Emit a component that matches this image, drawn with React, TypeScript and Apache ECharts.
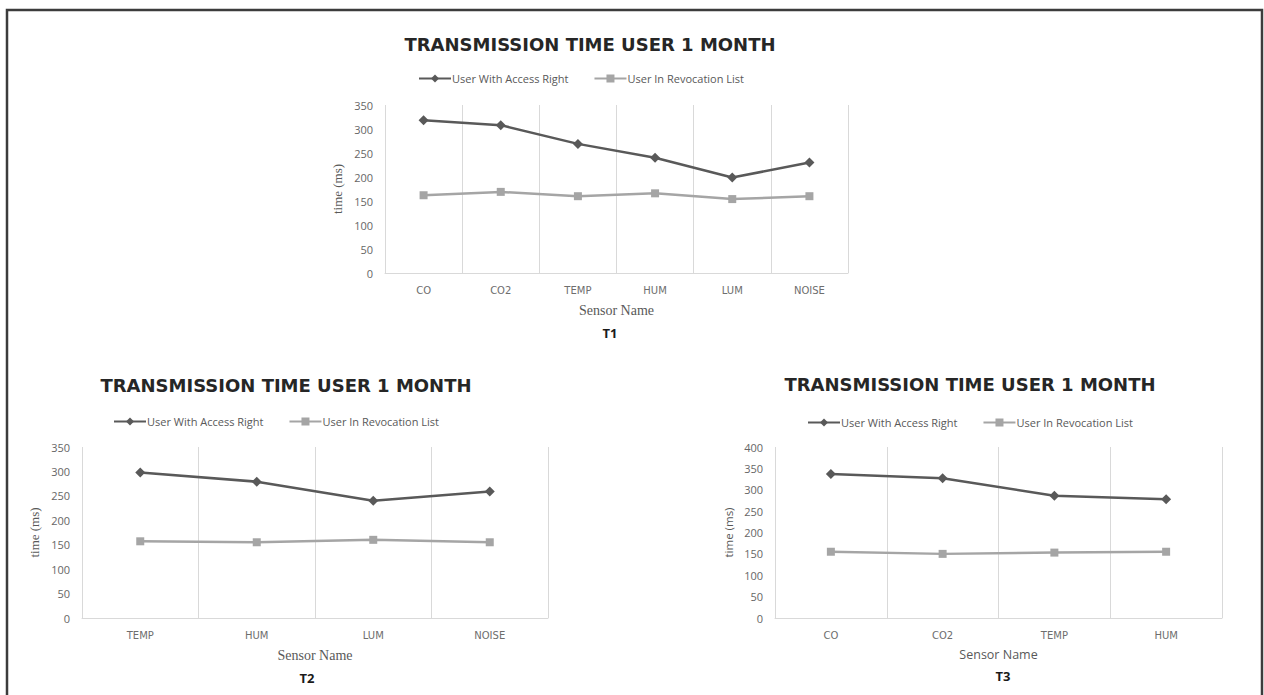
import React, { useEffect, useRef } from "react";
import * as echarts from "echarts";

const titleText = "TRANSMISSION TIME USER 1 MONTH";
const seriesNames = ["User With Access Right", "User In Revocation List"];

const t1Categories = ["CO", "CO2", "TEMP", "HUM", "LUM", "NOISE"];
const t1Access = [318, 308, 269, 240, 199, 230];
const t1Revoc = [162, 169, 160, 166, 154, 160];

const t2Categories = ["TEMP", "HUM", "LUM", "NOISE"];
const t2Access = [298, 279, 240, 259];
const t2Revoc = [157, 155, 160, 155];

const t3Categories = ["CO", "CO2", "TEMP", "HUM"];
const t3Access = [337, 327, 286, 278];
const t3Revoc = [155, 150, 153, 155];

const DARK = "#595959";
const LIGHT = "#a5a5a5";
const TXT = "#595959";

export default function App() {
  const ref = useRef<HTMLDivElement>(null);
  useEffect(() => {
    if (!ref.current) return;
    const chart = echarts.init(ref.current, undefined, { renderer: "svg" });

    const grids = [
      { left: 385, right: 416, top: 105, bottom: 422 },
      { left: 82, right: 716, top: 447, bottom: 77 },
      { left: 775, right: 42, top: 447, bottom: 77 },
    ];
    const cats = [t1Categories, t2Categories, t3Categories];
    const maxes = [350, 350, 400];

    const xAxis = cats.map((c, i) => ({
      type: "category",
      gridIndex: i,
      data: c,
      boundaryGap: true,
      axisLine: { lineStyle: { color: "#d9d9d9" } },
      axisTick: { show: false },
      splitLine: { show: true, lineStyle: { color: "#d9d9d9" } },
      axisLabel: { color: "#6e6e6e", fontSize: 10, fontFamily: "DejaVu Sans", margin: 12 },
      name: "Sensor Name",
      nameLocation: "middle",
      nameGap: 30,
      nameTextStyle: {
        color: TXT,
        fontSize: i === 2 ? 12.5 : 14,
        fontFamily: i === 2 ? "Open Sans" : "Liberation Serif",
      },
    }));

    const yAxis = cats.map((_, i) => ({
      type: "value",
      gridIndex: i,
      min: 0,
      max: maxes[i],
      interval: 50,
      axisLine: { show: false },
      axisTick: { show: false },
      splitLine: { show: false },
      axisLabel: { color: "#666666", fontSize: 11, fontFamily: "Open Sans", margin: 12 },
      name: "time (ms)",
      nameLocation: "middle",
      nameGap: 41,
      nameRotate: 90,
      nameTextStyle: {
        color: TXT,
        fontSize: i === 2 ? 11.5 : 13,
        fontFamily: i === 2 ? "Open Sans" : "Liberation Serif",
      },
    }));

    const accessData = [t1Access, t2Access, t3Access];
    const revocData = [t1Revoc, t2Revoc, t3Revoc];
    const series: any[] = [];
    for (let i = 0; i < 3; i++) {
      series.push({
        type: "line",
        name: seriesNames[0],
        xAxisIndex: i,
        yAxisIndex: i,
        data: accessData[i],
        symbol: "diamond",
        symbolSize: 10,
        lineStyle: { color: DARK, width: 2.5 },
        itemStyle: { color: DARK },
      });
      series.push({
        type: "line",
        name: seriesNames[1],
        xAxisIndex: i,
        yAxisIndex: i,
        data: revocData[i],
        symbol: "rect",
        symbolSize: 8,
        lineStyle: { color: LIGHT, width: 2.5 },
        itemStyle: { color: LIGHT },
      });
    }

    const legendPos = [
      { left: 413, top: 68 },
      { left: 108, top: 411 },
      { left: 802, top: 412 },
    ];
    const legend = legendPos.map((p) => ({
      ...p,
      data: seriesNames,
      itemWidth: 32,
      itemHeight: 10,
      itemGap: 25,
      textStyle: { color: TXT, fontSize: 11, fontFamily: "Open Sans", padding: [0, 0, 0, -4] },
    }));

    const titlePos = [
      [590, 44],
      [286, 385],
      [970, 384],
    ];
    const tLabels = [
      ["T1", 610, 333],
      ["T2", 307, 678],
      ["T3", 1003, 676],
    ];

    const graphic: any[] = [
      {
        type: "rect",
        shape: { x: 7, y: 10, width: 1255, height: 700 },
        style: { fill: "none", stroke: "#3c3c3c", lineWidth: 2.5 },
        silent: true,
      },
      ...titlePos.map(([x, y]) => ({
        type: "text",
        x,
        y,
        style: {
          text: titleText,
          fill: "#262626",
          font: "bold 18px 'DejaVu Sans'",
          align: "center",
          verticalAlign: "middle",
        },
      })),
      ...tLabels.map(([t, x, y]) => ({
        type: "text",
        x,
        y,
        style: {
          text: t,
          fill: "#1a1a1a",
          font: "bold 13px 'Open Sans'",
          align: "center",
          verticalAlign: "middle",
        },
      })),
    ];

    chart.setOption({
      animation: false,
      backgroundColor: "#ffffff",
      grid: grids,
      xAxis,
      yAxis,
      series,
      legend,
      graphic,
    });
    return () => chart.dispose();
  }, []);
  return (
    <div
      ref={ref}
      style={{ position: "fixed", left: 0, top: 0, width: 1264, height: 695 }}
    />
  );
}
